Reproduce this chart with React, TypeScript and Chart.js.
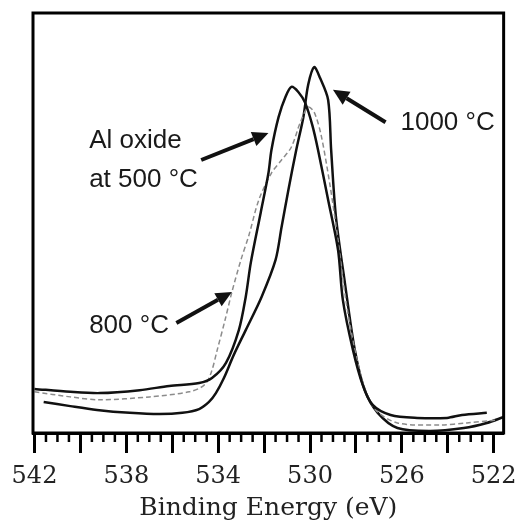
import React, { useEffect, useRef } from 'react';
import { Chart, registerables } from 'chart.js';

Chart.register(...registerables);

// Binding energy (eV) and intensity (arb. units) for each anneal temperature
const energy500 = [542.0, 540.44, 539.15, 537.42, 536.13, 534.83, 534.27, 533.66, 533.1, 532.8, 532.58, 532.15, 531.81, 531.68, 531.37, 531.07, 530.81, 530.51, 530.21, 529.9, 529.65, 529.21, 528.78, 528.57, 528.13, 527.7, 527.27, 526.49, 525.33, 524.03, 523.38, 522.3];
const intensity500 = [10.5, 9.8, 9.5, 10.2, 11.2, 11.9, 13.1, 16.7, 24.5, 32.4, 40.5, 52.4, 61.9, 67.4, 75.2, 80.0, 82.4, 81.2, 78.6, 73.3, 67.4, 55.5, 43.6, 31.7, 19.8, 11.4, 6.7, 4.3, 3.6, 3.6, 4.3, 4.8];

const energy800 = [542.0, 540.44, 539.15, 536.99, 535.26, 534.61, 534.31, 534.04, 533.7, 533.4, 533.01, 532.66, 532.23, 531.68, 531.24, 530.81, 530.42, 530.08, 529.82, 529.52, 529.13, 528.78, 528.44, 528.09, 527.66, 527.14, 526.19, 524.33, 523.17, 521.87];
const intensity800 = [9.8, 8.6, 7.9, 8.6, 9.8, 11.4, 14.3, 19.8, 26.9, 33.6, 41.2, 47.1, 55.5, 61.9, 65.0, 68.1, 74.0, 77.6, 76.4, 71.0, 59.0, 46.0, 31.7, 21.0, 11.4, 5.5, 2.4, 1.9, 2.4, 3.1];

const energy1000 = [541.6, 540.44, 539.28, 537.85, 536.56, 535.56, 534.83, 534.4, 534.1, 533.75, 533.32, 532.8, 532.11, 531.5, 531.24, 530.94, 530.6, 530.29, 530.08, 529.82, 529.56, 529.21, 529.08, 528.87, 528.48, 528.05, 527.62, 527.05, 526.19, 524.76, 523.3, 522.3, 521.57];
const intensity1000 = [7.4, 6.4, 5.5, 4.8, 4.5, 4.8, 5.7, 7.4, 9.5, 13.1, 18.6, 24.5, 32.4, 41.2, 49.0, 57.9, 67.4, 75.2, 82.9, 87.1, 84.5, 79.3, 67.4, 51.4, 35.7, 19.8, 10.2, 4.8, 1.2, 0.5, 1.2, 2.4, 3.8];

// Axis ticks
const majorTicks = [542, 540, 538, 536, 534, 532, 530, 528, 526, 524, 522];
const labeledTicks = [542, 538, 534, 530, 526, 522];
const minorTicks = [541.5, 541, 540.5, 539.5, 539, 538.5, 537.5, 537, 536.5, 535.5, 535, 534.5, 533.5, 533, 532.5, 531.5, 531, 530.5, 529.5, 529, 528.5, 527.5, 527, 526.5, 525.5, 525, 524.5, 523.5, 523, 522.5];

// Annotations (data coordinates)
const noteTexts = [['1000 °C'], ['Al oxide', 'at 500 °C'], ['800 °C']];
const noteX = [526.06, 539.62, 539.62];
const noteY = [72.1, 67.9, 23.8];
const arrowFromX = [526.71, 534.74, 535.82];
const arrowFromY = [74.0, 65.0, 26.2];
const arrowToX = [529.0, 531.81, 533.4];
const arrowToY = [81.7, 71.4, 33.6];

function toPoints(xs: number[], ys: number[]) {
  return xs.map((x, i) => ({ x, y: ys[i] }));
}

function drawArrow(ctx: CanvasRenderingContext2D, x1: number, y1: number, x2: number, y2: number) {
  const ang = Math.atan2(y2 - y1, x2 - x1);
  const hl = 16;
  const hw = 7.5;
  const bx = x2 - hl * Math.cos(ang);
  const by = y2 - hl * Math.sin(ang);
  ctx.save();
  ctx.strokeStyle = '#111';
  ctx.fillStyle = '#111';
  ctx.lineWidth = 4;
  ctx.beginPath();
  ctx.moveTo(x1, y1);
  ctx.lineTo(bx, by);
  ctx.stroke();
  ctx.beginPath();
  ctx.moveTo(x2, y2);
  ctx.lineTo(bx + hw * Math.sin(ang), by - hw * Math.cos(ang));
  ctx.lineTo(bx - hw * Math.sin(ang), by + hw * Math.cos(ang));
  ctx.closePath();
  ctx.fill();
  ctx.restore();
}

const decorPlugin = {
  id: 'decor',
  afterDraw(chart: any) {
    const { ctx, chartArea, scales } = chart;
    const xs = scales.x;
    const ys = scales.y;
    ctx.save();
    // frame
    ctx.strokeStyle = '#000';
    ctx.lineWidth = 3;
    ctx.strokeRect(chartArea.left, chartArea.top, chartArea.right - chartArea.left, chartArea.bottom - chartArea.top);
    // minor ticks
    ctx.lineWidth = 2.5;
    ctx.beginPath();
    minorTicks.forEach((v) => {
      const px = xs.getPixelForValue(v);
      ctx.moveTo(px, chartArea.bottom);
      ctx.lineTo(px, chartArea.bottom + 9);
    });
    ctx.stroke();
    // annotations
    ctx.fillStyle = '#1a1a1a';
    ctx.font = '26px "Liberation Sans", Arial, sans-serif';
    ctx.textBaseline = 'alphabetic';
    ctx.textAlign = 'left';
    noteTexts.forEach((lines, i) => {
      const px = xs.getPixelForValue(noteX[i]);
      const py = ys.getPixelForValue(noteY[i]);
      lines.forEach((t, j) => ctx.fillText(t, px, py + j * 39));
    });
    arrowFromX.forEach((_, i) => {
      drawArrow(
        ctx,
        xs.getPixelForValue(arrowFromX[i]),
        ys.getPixelForValue(arrowFromY[i]),
        xs.getPixelForValue(arrowToX[i]),
        ys.getPixelForValue(arrowToY[i])
      );
    });
    ctx.restore();
  },
};

export default function App() {
  const ref = useRef<HTMLCanvasElement>(null);
  useEffect(() => {
    document.body.style.margin = '0';
    const canvas = ref.current;
    if (!canvas) return;
    const chart = new Chart(canvas, {
      type: 'line',
      data: {
        datasets: [
          {
            label: 'Al oxide at 500 °C',
            data: toPoints(energy500, intensity500),
            borderColor: '#111',
            borderWidth: 2.5,
            pointRadius: 0,
            tension: 0.3,
            fill: false,
          },
          {
            label: '800 °C',
            data: toPoints(energy800, intensity800),
            borderColor: '#8c8c8c',
            borderWidth: 1.5,
            borderDash: [5, 3],
            pointRadius: 0,
            tension: 0.3,
            fill: false,
          },
          {
            label: '1000 °C',
            data: toPoints(energy1000, intensity1000),
            borderColor: '#111',
            borderWidth: 2.5,
            pointRadius: 0,
            tension: 0.3,
            fill: false,
          },
        ],
      },
      options: {
        animation: false,
        responsive: false,
        devicePixelRatio: 1,
        layout: { padding: { left: 33, right: 19, top: 13, bottom: 0 } },
        plugins: { legend: { display: false }, tooltip: { enabled: false } },
        scales: {
          x: {
            type: 'linear',
            reverse: true,
            min: 521.567,
            max: 542.065,
            afterBuildTicks: (axis: any) => {
              axis.ticks = majorTicks.map((v) => ({ value: v }));
            },
            afterFit: (axis: any) => {
              axis.height = 90;
            },
            ticks: {
              autoSkip: false,
              maxRotation: 0,
              padding: 9,
              color: '#222',
              font: { family: '"DejaVu Serif", serif', size: 24 },
              callback: (v: any) => (labeledTicks.includes(Number(v)) ? String(v) : ''),
            },
            grid: {
              drawOnChartArea: false,
              drawTicks: true,
              tickLength: 20,
              tickWidth: 3,
              tickColor: '#000',
            },
            border: { display: true, color: '#000', width: 3 },
            title: {
              display: true,
              text: 'Binding Energy (eV)',
              color: '#222',
              font: { family: '"DejaVu Serif", serif', size: 25 },
              padding: { top: 0, bottom: 0 },
            },
          },
          y: {
            display: false,
            min: 0,
            max: 100,
          },
        },
      },
      plugins: [decorPlugin],
    });
    return () => chart.destroy();
  }, []);
  return (
    <div style={{ width: 526, height: 523 }}>
      <canvas ref={ref} width={526} height={523} style={{ display: 'block' }} />
    </div>
  );
}
